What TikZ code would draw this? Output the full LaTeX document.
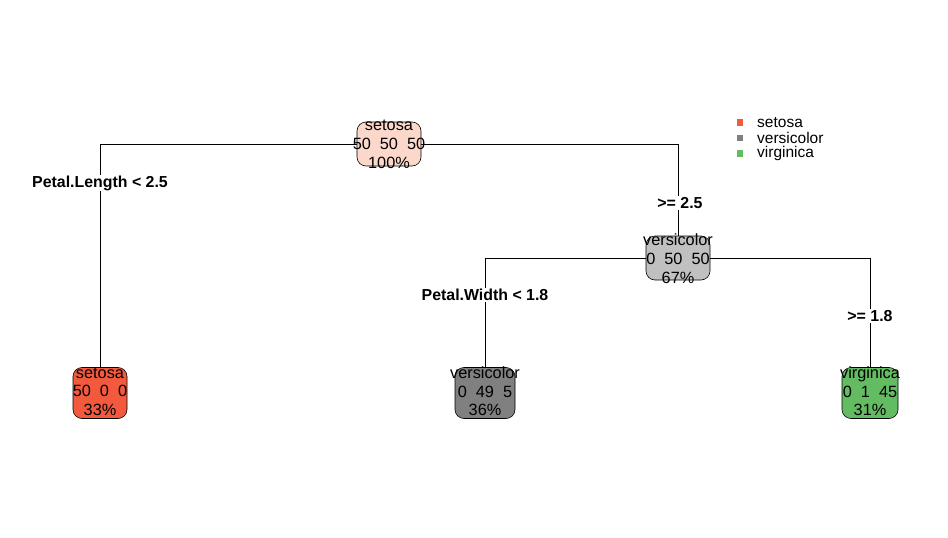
\documentclass[tikz,border=0pt]{standalone}
\usepackage{fontspec}
\setmainfont{Liberation Sans}
\definecolor{cRootF}{RGB}{252,216,202}
\definecolor{cSet}{RGB}{243,89,61}
\definecolor{cVerL}{RGB}{192,192,192}
\definecolor{cVer}{RGB}{128,128,128}
\definecolor{cVir}{RGB}{100,188,98}
\tikzset{
  treebox/.style={draw=black, line width=0.6pt, rounded corners=9pt, inner sep=0pt},
  treetext/.style={inner sep=0pt, align=center, font=\fontsize{16.3}{19}\selectfont},
  leaftext/.style={inner sep=0pt, align=center, font=\fontsize{16.3}{18.5}\selectfont},
  splitlab/.style={inner sep=1pt, fill=white, font=\fontsize{15.9}{18}\selectfont\bfseries},
  edgeline/.style={draw=black, line width=0.6pt},
  legsq/.style={inner sep=0pt, minimum size=6.5pt},
  legtext/.style={inner sep=0pt, anchor=west, font=\fontsize{15.5}{18}\selectfont}
}
\begin{document}
\begin{tikzpicture}[x=1pt,y=-1pt]
\useasboundingbox (0,0) rectangle (948,538);
\fill[white] (0,0) rectangle (948,538);
\coordinate (rootc) at (389,144);
\coordinate (rintc) at (678,258);
% invisible anchors for the edges
\node[treebox, minimum width=64pt, minimum height=44pt, draw=none] (root) at (rootc) {};
\node[treebox, minimum width=64pt, minimum height=44pt, draw=none] (rint) at (rintc) {};
\node[treebox, minimum width=54pt, minimum height=51pt, draw=none] (leafA) at (100,393) {};
\node[treebox, minimum width=60pt, minimum height=51pt, draw=none] (leafB) at (485,393) {};
\node[treebox, minimum width=56pt, minimum height=51pt, draw=none] (leafC) at (870,393) {};
\draw[edgeline] (root.west) -| (leafA.north);
\draw[edgeline] (root.east) -| (rint.north);
\draw[edgeline] (rint.west) -| (leafB.north);
\draw[edgeline] (rint.east) -| (leafC.north);
% split labels
\node[splitlab] (sA) at (100,183) {Petal.Length < 2.5};
\node[splitlab] (sB) at (680,203) {>= 2.5};
\node[splitlab] (sC) at (485,295) {Petal.Width < 1.8};
\node[splitlab] (sD) at (870,316) {>= 1.8};
% boxes
\node[treebox, minimum width=64pt, minimum height=44pt, fill=cRootF] (rootb) at (rootc) {};
\node[treetext] (roott) at (rootc) {setosa\\50\ \ 50\ \ 50\\100\%};
\node[treebox, minimum width=64pt, minimum height=44pt, fill=cVerL] (rintb) at (rintc) {};
\node[treetext] (rintt) at ([yshift=-0.5pt]rintc) {versicolor\\0\ \ 50\ \ 50\\67\%};
\node[treebox, minimum width=54pt, minimum height=51pt, fill=cSet] (leafAb) at (leafA) {};
\node[leaftext] (leafAt) at (100,391.5) {setosa\\50\ \ 0\ \ 0\\33\%};
\node[treebox, minimum width=60pt, minimum height=51pt, fill=cVer] (leafBb) at (leafB) {};
\node[leaftext] (leafBt) at (485,391.5) {versicolor\\0\ \ 49\ \ 5\\36\%};
\node[treebox, minimum width=56pt, minimum height=51pt, fill=cVir] (leafCb) at (leafC) {};
\node[leaftext] (leafCt) at (870,391.5) {virginica\\0\ \ 1\ \ 45\\31\%};
% legend
\node[legsq, fill=cSet] (lq1) at (740,122.5) {};
\node[legsq, fill=cVer] (lq2) at (740,138) {};
\node[legsq, fill=cVir] (lq3) at (740,153.5) {};
\node[legtext] (lt1) at (757,122.5) {setosa};
\node[legtext] (lt2) at (757,138) {versicolor};
\node[legtext] (lt3) at (757,153.5) {virginica};
\end{tikzpicture}
\end{document}
